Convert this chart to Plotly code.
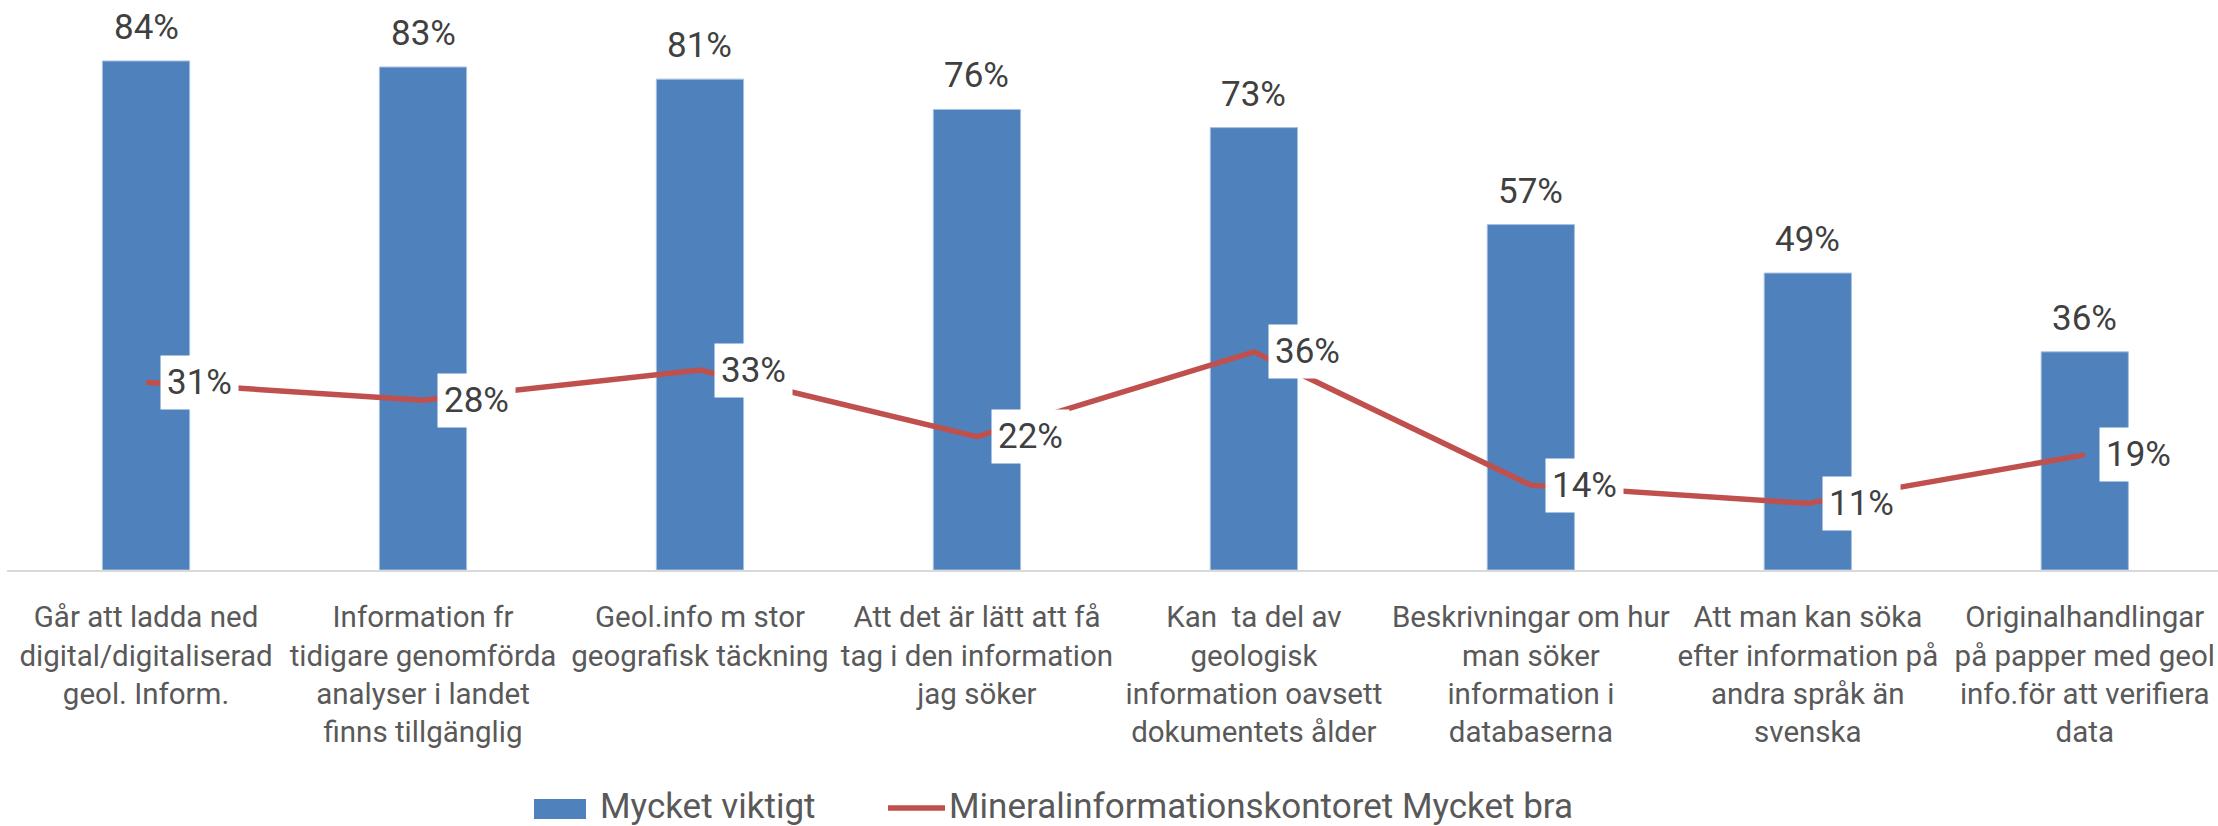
import plotly.graph_objects as go

categories = [
    "Går att ladda ned<br>digital/digitaliserad<br>geol. Inform.",
    "Information fr<br>tidigare genomförda<br>analyser i landet<br>finns tillgänglig",
    "Geol.info m stor<br>geografisk täckning",
    "Att det är lätt att få<br>tag i den information<br>jag söker",
    "Kan \u00a0ta del av<br>geologisk<br>information oavsett<br>dokumentets ålder",
    "Beskrivningar om hur<br>man söker<br>information i<br>databaserna",
    "Att man kan söka<br>efter information på<br>andra språk än<br>svenska",
    "Originalhandlingar<br>på papper med geol<br>info.för att verifiera<br>data",
]
mycket_viktigt = [0.84, 0.83, 0.81, 0.76, 0.73, 0.57, 0.49, 0.36]
mik_mycket_bra = [0.31, 0.28, 0.33, 0.22, 0.36, 0.14, 0.11, 0.19]

series_names = ["Mycket viktigt", "Mineralinformationskontoret Mycket bra"]

FONT = "Roboto, Lato, sans-serif"
BLUE = "#4F81BD"
RED = "#C0504D"

W, H = 2218, 826
ML, MR, MT, MB = 7, 0, 0, 256
PW = W - ML - MR
PH = H - MT - MB


def px_x(px):
    return (px - ML) / PW


def px_y(py):
    return (H - MB - py) / PH


fig = go.Figure()
fig.add_trace(go.Bar(
    x=categories, y=mycket_viktigt, name=series_names[0],
    marker=dict(color=BLUE, line=dict(color="#A9C1E0", width=1)),
    showlegend=False,
))
fig.add_trace(go.Scatter(
    x=categories, y=mik_mycket_bra, name=series_names[1],
    mode="lines", line=dict(color=RED, width=5.5),
    showlegend=False,
))

annotations = []
for c, v in zip(categories, mycket_viktigt):
    annotations.append(dict(
        x=c, y=v, xref="x", yref="y", text=f"{round(v*100)}%",
        showarrow=False, yanchor="bottom", xanchor="center", yshift=11,
        font=dict(family=FONT, size=35, color="#404040"),
    ))
for c, v in zip(categories, mik_mycket_bra):
    annotations.append(dict(
        x=c, y=v, xref="x", yref="y", text=f"{round(v*100)}%",
        showarrow=False, yanchor="middle", xanchor="left", xshift=14,
        bgcolor="white", borderpad=6,
        font=dict(family=FONT, size=35, color="#404040"),
    ))

# legend (drawn to match the reference's large legend keys)
shapes = [
    dict(type="rect", xref="paper", yref="paper",
         x0=px_x(534), x1=px_x(586), y0=px_y(819), y1=px_y(799),
         fillcolor=BLUE, line=dict(width=0)),
    dict(type="line", xref="paper", yref="paper",
         x0=px_x(888), x1=px_x(945), y0=px_y(808), y1=px_y(808),
         line=dict(color=RED, width=5.5)),
]
annotations.append(dict(
    x=px_x(598), y=px_y(806), xref="paper", yref="paper", text=series_names[0],
    showarrow=False, xanchor="left", yanchor="middle",
    font=dict(family=FONT, size=35, color="#595959"),
))
annotations.append(dict(
    x=px_x(947), y=px_y(806), xref="paper", yref="paper", text=series_names[1],
    showarrow=False, xanchor="left", yanchor="middle",
    font=dict(family=FONT, size=35, color="#595959"),
))

fig.update_layout(
    width=W, height=H,
    margin=dict(l=ML, r=MR, t=MT, b=MB),
    plot_bgcolor="white", paper_bgcolor="white",
    bargap=0.685,
    font=dict(family=FONT, color="#595959"),
    showlegend=False,
    annotations=annotations,
    shapes=shapes,
)
fig.update_xaxes(
    range=[-0.502, 7.481],
    showline=True, linecolor="#D9D9D9", linewidth=2,
    ticks="", tickfont=dict(family=FONT, size=29.5, color="#595959"),
    ticklabelstandoff=20, showgrid=False, zeroline=False,
)
fig.update_yaxes(
    range=[0, 0.9406], visible=False, showgrid=False, zeroline=False,
)

fig.write_html(
    "out.html",
    config={"displayModeBar": False},
    post_script="document.body.style.margin='0';document.body.style.overflow='hidden';",
)
